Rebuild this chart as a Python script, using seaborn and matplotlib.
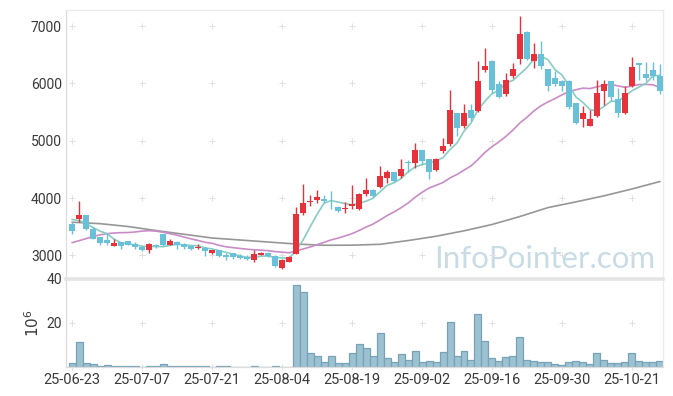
import numpy as np
import pandas as pd
import matplotlib
matplotlib.use("Agg")
import matplotlib.pyplot as plt
import seaborn as sns

# ---------------- data ----------------
opens = [3541, 3635, 3706, 3470, 3323, 3276, 3165, 3235, 3247, 3206,
         3141, 3088, 3188, 3370, 3188, 3235, 3206, 3165, 3135, 3135,
         3041, 3094, 3006, 3035, 2994, 2977, 2918, 3012, 3035, 2988,
         2784, 2889, 3029, 3737, 3930, 3959, 3989, 3971, 3850, 3807,
         3860, 3819, 4065, 4147, 4188, 4345, 4451, 4381, 4638, 4615,
         4831, 4685, 4486, 4819, 4936, 5480, 5249, 5537, 5520, 6240,
         6395, 5998, 5808, 6124, 6430, 6902, 6384, 6516, 6251, 6101,
         6038, 6050, 5652, 5387, 5260, 5433, 5865, 6038, 5721, 5491,
         5952, 6355, 6171, 6228, 6136]
highs = [3588, 3953, 3710, 3490, 3330, 3394, 3294, 3240, 3259, 3235,
         3159, 3218, 3206, 3376, 3294, 3247, 3212, 3170, 3206, 3147,
         3100, 3100, 3035, 3047, 3023, 3006, 3094, 3059, 3064, 3006,
         2930, 2988, 3842, 4250, 4050, 4135, 4059, 4130, 3856, 3924,
         4234, 4088, 4351, 4155, 4556, 4497, 4460, 4685, 4673, 4954,
         4835, 4690, 4700, 5053, 5880, 5485, 5635, 5635, 6384, 6614,
         6400, 6040, 6182, 6355, 7173, 6915, 6700, 6747, 6255, 6211,
         6067, 6055, 5660, 5606, 5530, 6067, 6067, 6045, 5923, 5950,
         6459, 6360, 6372, 6372, 6343]
lows = [3370, 3588, 3450, 3288, 3188, 3176, 3159, 3106, 3176, 3106,
        3070, 3041, 3135, 3170, 3176, 3112, 3118, 3100, 3112, 2994,
        3029, 2965, 2918, 2947, 2930, 2918, 2889, 3000, 2965, 2801,
        2772, 2883, 3023, 3708, 3866, 3913, 3913, 3807, 3760, 3737,
        3815, 3796, 4041, 4020, 4180, 4263, 4280, 4351, 4451, 4527,
        4585, 4334, 4470, 4790, 4910, 5083, 5214, 5347, 5508, 6200,
        5837, 5750, 5779, 6096, 6343, 6413, 6269, 6251, 5865, 5963,
        5865, 5560, 5289, 5232, 5255, 5420, 5618, 5692, 5422, 5460,
        5930, 6067, 6040, 6067, 5808]
closes = [3429, 3706, 3470, 3294, 3218, 3218, 3218, 3165, 3188, 3147,
          3088, 3194, 3165, 3176, 3253, 3188, 3147, 3106, 3153, 3076,
          3088, 2994, 2965, 2977, 2953, 2941, 3023, 3047, 2994, 2819,
          2918, 2965, 3725, 3913, 3955, 4018, 3942, 3959, 3784, 3830,
          3895, 4076, 4147, 4041, 4392, 4451, 4305, 4515, 4615, 4831,
          4655, 4451, 4685, 4907, 5534, 5229, 5479, 5404, 6050, 6297,
          5877, 5762, 6067, 6257, 6862, 6430, 6516, 6309, 5952, 5998,
          5952, 5589, 5318, 5479, 5376, 5825, 5998, 5762, 5491, 5825,
          6286, 6320, 6090, 6136, 5865]
volumes = [1.7, 11.4, 1.7, 1.2, 0.45, 0.9, 0.45, 0.45, 0.45, 0.45,
           0.1, 0.45, 0.45, 1.4, 0.45, 0.45, 0.45, 0.45, 0.45, 0.45,
           0.1, 0.45, 0.45, 0.1, 0.1, 0.1, 0.45, 0.1, 0.1, 0.45,
           0.1, 0.1, 37.1, 34.2, 6.2, 5.2, 2.5, 5.2, 1.6, 1.6,
           6.2, 10.3, 8.5, 4.8, 15.5, 3.9, 2.5, 5.7, 3.4, 7.5,
           2.5, 2.9, 2.5, 6.6, 20.4, 5.2, 7.5, 3.0, 24.1, 11.8,
           4.0, 2.6, 4.5, 4.9, 13.7, 3.1, 2.6, 2.2, 2.2, 1.2,
           0.8, 2.2, 2.6, 2.2, 1.2, 6.3, 3.1, 1.7, 1.7, 2.2,
           6.3, 2.6, 2.2, 2.2, 2.6]

# moving-average values before enough history exists
ma5_head = [3629, 3606, 3559, 3488]
ma20_head = [3223, 3258, 3294, 3330, 3360, 3380, 3392, 3398, 3400, 3410,
             3425, 3432, 3425, 3405, 3380, 3355, 3320, 3290, 3262]
# long moving average (history not shown)
ma_long_idx = [0, 4, 8, 12, 16, 20, 24, 28, 32, 36, 40, 44, 48, 52, 56,
               60, 64, 68, 72, 76, 80, 84]
ma_long_val = [3580, 3555, 3505, 3435, 3370, 3305, 3270, 3235, 3200, 3178,
               3180, 3195, 3260, 3335, 3430, 3540, 3680, 3835, 3935, 4040,
               4160, 4290]

tick_idx = [0, 10, 20, 30, 40, 50, 60, 70, 80]
tick_labels = ['25-06-23', '25-07-07', '25-07-21', '25-08-04', '25-08-19',
               '25-09-02', '25-09-16', '25-09-30', '25-10-21']
price_ticks = [3000, 4000, 5000, 6000, 7000]
vol_ticks = [20, 40]

# ---------------- build frames ----------------
n = len(closes)
df = pd.DataFrame({'idx': np.arange(n), 'open': opens, 'high': highs,
                   'low': lows, 'close': closes, 'volume': volumes})
ma5 = df['close'].rolling(5).mean().to_numpy()
ma5[:len(ma5_head)] = ma5_head
ma20 = df['close'].rolling(20).mean().to_numpy()
ma20[:len(ma20_head)] = ma20_head
df['ma5'] = ma5
df['ma20'] = ma20
df_long = pd.DataFrame({'idx': ma_long_idx, 'ma': ma_long_val})

UP = '#e8323b'
DOWN = '#68c1d8'
TICKC = '#3a3a3a'
FONT = ['Roboto', 'DejaVu Sans']

sns.set_theme(style='white')
plt.rcParams['font.family'] = FONT

fig = plt.figure(figsize=(6.73, 3.96), dpi=100)
L, R = 66 / 673, 663 / 673
ax = fig.add_axes([L, (396 - 279) / 396, R - L, 269 / 396])
axv = fig.add_axes([L, (396 - 367) / 396, R - L, 88 / 396], sharex=ax)

# watermark
ax.text(0.987, 0.042, 'InfoPointer.com', transform=ax.transAxes,
        ha='right', va='baseline', fontsize=22.5, color='#c9dce6',
        family=['Lato', 'DejaVu Sans'], zorder=0)

# grid crosses
for a, yt in ((ax, price_ticks), (axv, [0, 20])):
    gx, gy = np.meshgrid(tick_idx, yt)
    a.scatter(gx.ravel(), gy.ravel(), marker='+', s=14, linewidths=0.7,
              color='#e0e0e0', zorder=0.5, clip_on=False)

# moving averages
sns.lineplot(data=df_long, x='idx', y='ma', ax=ax, color='#979797', lw=1.2,
             zorder=1)
sns.lineplot(data=df, x='idx', y='ma20', ax=ax, color='#c98cc7', lw=1.2,
             zorder=1)
sns.lineplot(data=df, x='idx', y='ma5', ax=ax, color='#86cdc4', lw=1.2,
             zorder=1)

# candles
up = df['close'] >= df['open']
colors = np.where(up, UP, DOWN)
ax.vlines(df['idx'], df['low'], df['high'], colors=colors, lw=1.0, zorder=2)
body_low = np.minimum(df['open'], df['close'])
body_h = np.maximum(np.abs(df['close'] - df['open']), 12)
ax.bar(df['idx'], body_h, bottom=body_low, width=0.72, color=colors,
       linewidth=0, zorder=3)

# volume
sns.barplot(data=df, x='idx', y='volume', ax=axv, native_scale=True,
            color='#9cc1d1', edgecolor='#76a3b8', linewidth=0.9,
            width=1.0, saturation=1, zorder=2)

# axes styling
ax.set_xlim(-0.86, 84.43)
ax.set_ylim(2590, 7280)
axv.set_ylim(0, 40)
ax.set_yticks(price_ticks)
ax.set_yticklabels([str(v) for v in price_ticks])
axv.set_yticks(vol_ticks)
axv.set_yticklabels([str(v) for v in vol_ticks])
axv.set_xticks(tick_idx)
axv.set_xticklabels(tick_labels)
ax.tick_params(axis='x', labelbottom=False, length=0)
for a in (ax, axv):
    a.tick_params(axis='both', length=0, labelsize=10, colors=TICKC, pad=3)
    a.set_xlabel('')
    a.set_ylabel('')
    a.grid(False)
axv.tick_params(axis='x', labelsize=10.5, pad=4)

ax.spines['left'].set_color('#dcdcdc')
ax.spines['top'].set_color('#ececec')
ax.spines['right'].set_color('#ececec')
ax.spines['bottom'].set_visible(False)
for s in ('left', 'top', 'right'):
    ax.spines[s].set_linewidth(0.9)

axv.spines['top'].set_color('#e4e4e4')
axv.spines['top'].set_linewidth(2.6)
axv.spines['left'].set_color('#dcdcdc')
axv.spines['bottom'].set_color('#dcdcdc')
axv.spines['right'].set_color('#ececec')
for s in ('left', 'bottom', 'right'):
    axv.spines[s].set_linewidth(0.9)

axv.set_ylabel(r'$10^6$', fontsize=11, color=TICKC, labelpad=3)

fig.savefig('out.png', dpi=100, facecolor='white')
